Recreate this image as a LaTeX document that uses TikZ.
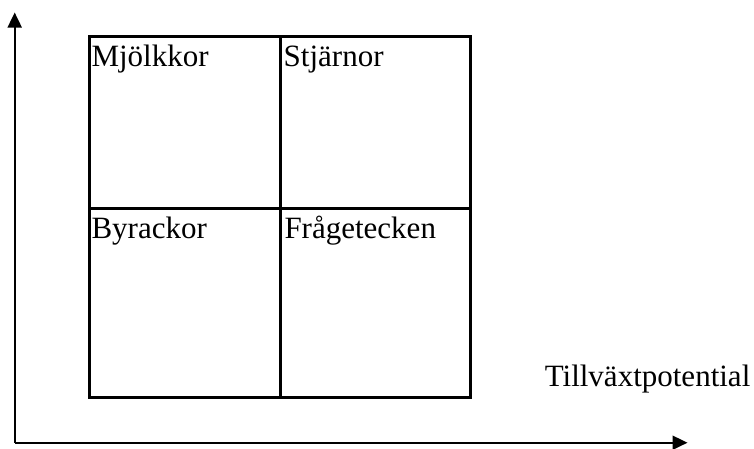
\documentclass[tikz,border=0pt]{standalone}
\usepackage{fontspec}
\setmainfont{Liberation Serif}
\usetikzlibrary{arrows.meta}
\begin{document}
\begin{tikzpicture}[x=1pt,y=-1pt,
  axis/.style={line width=1.9pt,-{Triangle[length=15pt,width=14pt]}},
  grid/.style={line width=3.3pt},
  lbl/.style={anchor=base west,inner sep=0pt,font=\fontsize{31}{36}\selectfont}]
\useasboundingbox (0,0) rectangle (754,448);
\coordinate (origin) at (14.7,442.7);
\coordinate (ytip) at (14.7,12.5);
\coordinate (xtip) at (687.5,442.7);
\draw[axis] (origin) -- (ytip);
\draw[axis] (origin) -- (xtip);
\draw[grid] (89.3,36.7) rectangle (470.7,397.5);
\draw[grid] (280.5,36.7) -- (280.5,397.5);
\draw[grid] (89.3,208.7) -- (470.7,208.7);
\node[lbl] (mj) at (91.3,66.7) {Mjölkkor};
\node[lbl] (st) at (283.5,66.7) {Stjärnor};
\node[lbl] (by) at (91.3,238.8) {Byrackor};
\node[lbl] (fr) at (284.3,238.8) {Frågetecken};
\node[lbl,anchor=base east] (tv) at (750.5,386.5) {Tillväxtpotential};
\end{tikzpicture}
\end{document}
